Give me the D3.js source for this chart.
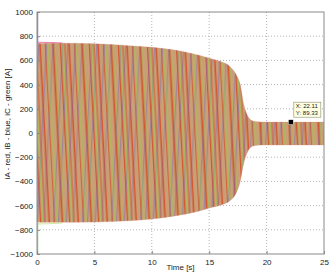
<!DOCTYPE html>
<html>
<head>
<meta charset="utf-8">
<script src="https://cdn.jsdelivr.net/npm/d3@7"></script>
<style>
  body { margin: 0; background: #fff; }
  text { font-family: "Liberation Sans", Arial, sans-serif; fill: #222; }
</style>
</head>
<body>
<svg id="chart"></svg>
<script>
// envelope of the three phase currents
const time  = [0, 2, 5, 8, 10, 12, 14, 15, 16, 16.8, 17.3, 17.7, 18.0, 18.3, 18.6, 19, 19.5, 20, 25];
const upper = [740, 742, 738, 722, 708, 685, 645, 618, 590, 550, 490, 400, 240, 150, 110, 95, 91, 90, 90];
const lower = [-738, -738, -736, -725, -711, -685, -648, -620, -595, -560, -505, -400, -250, -165, -120, -104, -100, -99, -99];

// start-up overshoot of iA (top) and iC (bottom)
const overT = [0, 1, 2.2];
const overA = [750, 748, 744];
const overC = [-752, -750, -744];

// inrush spikes at t = 0
const spikeB = [1000, 740];
const spikeC = [-740, -1000];

const xTicks = [0, 5, 10, 15, 20, 25];
const yTicks = [-1000, -800, -600, -400, -200, 0, 200, 400, 600, 800, 1000];

const tipX = 22.11, tipY = 89.33;

const W = 330, H = 280;
const margin = {top: 12, right: 6, bottom: 26, left: 37};
const width = W - margin.left - margin.right;
const height = H - margin.top - margin.bottom;

const svg = d3.select('#chart').attr('width', W).attr('height', H);

const x = d3.scaleLinear().domain([0, 25]).range([0, width]);
const y = d3.scaleLinear().domain([-1000, 1000]).range([height, 0]);

// stripe patterns standing in for the densely packed phase traces
const defs = svg.append('defs');
const stripes = [
    {id: 'pA', color: '#d63c18', op: 0.75, pos: [0.5, 6.2, 13.5, 21, 25.6], w: [1.6, 0.9, 1.9, 1.3, 0.9]},
    {id: 'pB', color: '#7466c2', op: 0.55, pos: [3.1, 10.6, 17.4, 27.2], w: [1, 1.2, 0.9, 1]},
    {id: 'pC', color: '#86dc3c', op: 0.6, pos: [8.4, 15.7, 23.4], w: [1.1, 0.8, 1.2]}
];
stripes.forEach((s, k) => {
    const p = defs.append('pattern')
        .attr('id', s.id)
        .attr('patternUnits', 'userSpaceOnUse')
        .attr('width', 29).attr('height', 60)
        .attr('patternTransform', `skewX(${k === 1 ? -3 : 3})`);
    s.pos.forEach((px, i) => {
        p.append('rect')
            .attr('x', px).attr('y', 0)
            .attr('width', s.w[i]).attr('height', 60)
            .attr('fill', s.color).attr('opacity', s.op);
    });
});
defs.append('clipPath').attr('id', 'clip')
    .append('rect').attr('width', width).attr('height', height);

const g = svg.append('g').attr('transform', `translate(${margin.left},${margin.top})`);

// grid
g.append('g').selectAll('line').data(xTicks.slice(1, -1)).join('line')
    .attr('x1', d => x(d)).attr('x2', d => x(d))
    .attr('y1', 0).attr('y2', height)
    .attr('stroke', '#b4b4b4').attr('stroke-dasharray', '1,2');
g.append('g').selectAll('line').data(yTicks.slice(1, -1)).join('line')
    .attr('x1', 0).attr('x2', width)
    .attr('y1', d => y(d)).attr('y2', d => y(d))
    .attr('stroke', '#b4b4b4').attr('stroke-dasharray', '1,2');

const env = time.map((t, i) => ({t: t, hi: upper[i], lo: lower[i]}));
const band = d3.area()
    .x(d => x(d.t))
    .y0(d => y(d.lo))
    .y1(d => y(d.hi))
    .curve(d3.curveMonotoneX);

const data = g.append('g').attr('clip-path', 'url(#clip)');
data.append('path').datum(env).attr('d', band).attr('fill', '#c99f76');
stripes.forEach(s => {
    data.append('path').datum(env).attr('d', band).attr('fill', `url(#${s.id})`);
});

// edges of the band
const edgeHi = d3.line().x(d => x(d.t)).y(d => y(d.hi)).curve(d3.curveMonotoneX);
const edgeLo = d3.line().x(d => x(d.t)).y(d => y(d.lo)).curve(d3.curveMonotoneX);
[edgeHi, edgeLo].forEach(edge => {
    data.append('path').datum(env).attr('d', edge).attr('fill', 'none')
        .attr('stroke', '#e08a80').attr('stroke-width', 0.5).attr('opacity', 0.6);
});

// overshoots
const over = d3.line().x(d => x(d[0])).y(d => y(d[1]));
data.append('path').datum(overT.map((t, i) => [t, overA[i]])).attr('d', over)
    .attr('fill', 'none').attr('stroke', '#e0307a').attr('stroke-width', 0.8).attr('opacity', 0.8);
data.append('path').datum(overT.map((t, i) => [t, overC[i]])).attr('d', over)
    .attr('fill', 'none').attr('stroke', '#b8e070').attr('stroke-width', 0.8).attr('opacity', 0.9);

// spikes at t = 0
data.append('line').attr('x1', x(0) + 0.5).attr('x2', x(0) + 0.5)
    .attr('y1', y(spikeB[0])).attr('y2', y(spikeB[1]))
    .attr('stroke', '#8c8cd0').attr('stroke-width', 1.5);
data.append('line').attr('x1', x(0) + 0.5).attr('x2', x(0) + 0.5)
    .attr('y1', y(spikeC[0])).attr('y2', y(spikeC[1]))
    .attr('stroke', '#98d090').attr('stroke-width', 1.5);

// axes
const xAxis = d3.axisBottom(x).tickValues(xTicks).tickSize(-3).tickPadding(5).tickSizeOuter(0);
const yAxis = d3.axisLeft(y).tickValues(yTicks).tickFormat(d3.format('d'))
    .tickSize(-3).tickPadding(4).tickSizeOuter(0);

const xAxisG = g.append('g').attr('transform', `translate(0,${height})`).call(xAxis);
const yAxisG = g.append('g').call(yAxis);
[xAxisG, yAxisG].forEach(a => {
    a.select('.domain').remove();
    a.selectAll('line').attr('stroke', '#888');
    a.selectAll('text').attr('font-size', 8).attr('fill', '#222')
        .style('font-family', '"Liberation Sans", Arial, sans-serif');
});

g.append('rect').attr('width', width).attr('height', height)
    .attr('fill', 'none').attr('stroke', '#8a8a8a').attr('stroke-width', 1);

// labels
svg.append('text')
    .attr('x', margin.left + width / 2).attr('y', H - 10)
    .attr('text-anchor', 'middle').attr('font-size', 8)
    .text('Time [s]');
svg.append('text')
    .attr('transform', `translate(10,${margin.top + 112}) rotate(-90)`)
    .attr('text-anchor', 'middle').attr('font-size', 8)
    .text('iA - red, iB - blue, iC - green [A]');

// data tip
const tx = x(tipX), ty = y(tipY);
g.append('rect').attr('x', tx + 3).attr('y', ty - 20)
    .attr('width', 27).attr('height', 15)
    .attr('fill', '#ffffe1').attr('stroke', '#8c8c70').attr('stroke-width', 0.6);
g.append('text').attr('x', tx + 5).attr('y', ty - 14)
    .attr('font-size', 6).attr('fill', '#111').text('X: ' + tipX);
g.append('text').attr('x', tx + 5).attr('y', ty - 7.5)
    .attr('font-size', 6).attr('fill', '#111').text('Y: ' + tipY);
g.append('rect').attr('x', tx - 2.5).attr('y', ty - 2.5)
    .attr('width', 5).attr('height', 5)
    .attr('fill', '#000').attr('stroke', '#fff').attr('stroke-width', 0.5);
</script>
</body>
</html>
